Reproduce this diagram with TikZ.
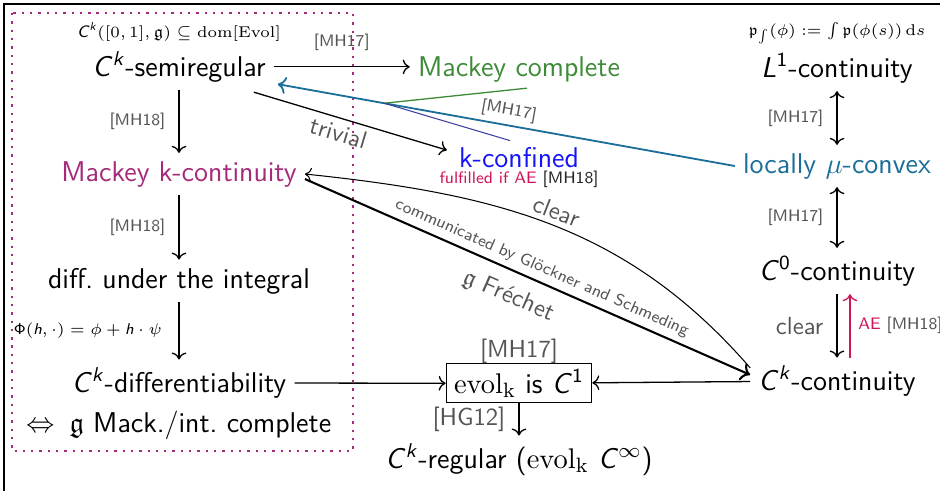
\documentclass[tikz,border=0pt]{standalone}
\usepackage{amsmath}
\usepackage{amssymb}
\usepackage{tikz}
\usetikzlibrary{arrows.meta, positioning, calc}
\definecolor{mackeypurple}{HTML}{A52A7A}
\definecolor{completegreen}{HTML}{3D8B37}
\definecolor{confinedblue}{HTML}{1414F5}
\definecolor{aecrimson}{HTML}{D0145A}
\definecolor{convexteal}{HTML}{1A6E99}
\definecolor{linkindigo}{HTML}{3C3CA0}
\definecolor{citegrey}{HTML}{555555}
\newcommand{\sfC}[1]{\textit{C}\textsuperscript{#1}}

\begin{document}
\begin{tikzpicture}[
    x=0.385pt, y=0.385pt,
    stmt/.style={font=\sffamily\fontsize{11}{13}\selectfont, anchor=base, inner sep=3pt},
    note/.style={font=\sffamily\fontsize{6.4}{7.5}\selectfont, anchor=base},
    cite/.style={font=\sffamily\fontsize{6.4}{7.5}\selectfont, text=citegrey, inner sep=2pt},
    remark/.style={font=\sffamily\fontsize{9.5}{11}\selectfont, text=citegrey, inner sep=2pt},
    imp/.style={->, line width=0.5pt},
]
    \useasboundingbox (0,0) rectangle (940,-491);
    \draw[line width=0.6pt] (4,-491) -- (4,-4) -- (940,-4);

    % Left column
    \draw[mackeypurple, line width=0.9pt, dash pattern=on 0.9pt off 2.3pt] (12,-13) rectangle (353,-451);
    \node[note] (dom) at (179,-37) {\sfC{\textit{k}}$([0,1],\mathfrak{g})\subseteq\mathrm{dom}[\mathrm{Evol}]$};
    \node[stmt] (semireg) at (179,-76) {\sfC{\textit{k}}-semiregular};
    \node[stmt, text=mackeypurple] (mkc) at (179,-181) {Mackey k-continuity};
    \node[stmt] (diffint) at (179,-288) {diff.\ under the integral};
    \node[stmt] (ckdiff) at (179,-392) {\sfC{\textit{k}}-differentiability};
    \node[stmt] (intc) at (179,-432) {$\Leftrightarrow$\enspace$\mathfrak{g}$ Mack./int.\ complete};

    % Middle
    \node[stmt, text=completegreen] (mcompl) at (519,-76) {Mackey complete};
    \node[stmt, text=confinedblue] (kconf) at (519,-167) {k-confined};
    \node[cite, anchor=base, text=black!85] (aenote) at (519,-183) {\textcolor{aecrimson}{fulfilled if AE} [MH18]};
    \node[stmt, draw, inner xsep=3pt, inner ysep=2pt] (evol) at (519,-393) {$\mathrm{evol}_{\mathrm{k}}$ is \sfC{1}};
    \node[remark, anchor=base] (evolcite) at (519,-357) {[MH17]};
    \node[stmt] (reg) at (519,-468) {\sfC{\textit{k}}-regular ($\mathrm{evol}_{\mathrm{k}}$ \sfC{$\infty$})};

    % Right column
    \node[note, font=\sffamily\fontsize{6}{7}\selectfont] (pint) at (837,-35) {$\mathfrak{p}_{\int}(\phi):=\int\mathfrak{p}(\phi(s))\,\mathrm{d}s$};
    \node[stmt] (L1) at (837,-77) {\textit{L}\textsuperscript{1}-continuity};
    \node[stmt, text=convexteal] (lmc) at (837,-173) {locally $\mu$-convex};
    \node[stmt] (C0) at (837,-280) {\sfC{0}-continuity};
    \node[stmt] (Ckc) at (837,-390) {\sfC{\textit{k}}-continuity};

    % Implications
    \draw[imp] (semireg) -- node[cite, left=3pt] {[MH18]} (mkc);
    \draw[imp] (mkc) -- node[cite, left=3pt] {[MH18]} (diffint);
    \draw[imp] (diffint) -- node[note, font=\sffamily\fontsize{6}{7}\selectfont, left=3pt, anchor=east] {$\mathsf{\Phi}(\textit{h},\cdot)=\phi+\textit{h}\cdot\psi$} (ckdiff);
    \draw[imp] (semireg.east) -- node[cite, above=4pt] {[MH17]} (mcompl.west |- semireg.east);
    \draw[imp] ($(semireg.south east)+(-20,-2)$) -- node[remark, sloped, below, pos=0.46] {trivial} ($(kconf.west)+(-4,7)$);
    \draw[->, convexteal, line width=0.7pt] (lmc.west) -- node[cite, sloped, above, pos=0.5] {[MH17]} coordinate[pos=0.767] (jn) ($(semireg.south east)+(4,6)$);
    \draw[completegreen, line width=0.5pt] (jn) -- ($(mcompl.south)+(8,2)$);
    \draw[linkindigo, line width=0.4pt] (jn) -- ($(kconf.north)+(-9,-2)$);

    \draw[->, line width=0.8pt] ($(mkc.east)+(0,-5)$) -- node[cite, sloped, above, pos=0.52] {communicated by Glöckner and Schmeding} node[remark, sloped, below=3pt, pos=0.48] {$\mathfrak{g}$ Fréchet} ($(Ckc.west)+(0,6)$);
    \draw[->, line width=0.4pt] ($(Ckc.west)+(0,13)$) to[out=131, in=-6] node[remark, sloped, above, pos=0.5] {clear} (mkc.east);

    \draw[imp] (ckdiff) -- (evol);
    \draw[imp] (Ckc) -- (evol);
    \draw[imp] (evol) -- node[remark, left=3pt] {[HG12]} (reg);

    \draw[imp, <->] (L1) -- node[cite, left=3pt] {[MH17]} (lmc);
    \draw[imp, <->] (lmc) -- node[cite, left=3pt] {[MH17]} (C0);
    \draw[imp] (C0) -- node[remark, left=3pt] {clear} (Ckc);
    \draw[imp, aecrimson] ([xshift=5pt]Ckc.north) -- node[cite, right=1pt, text=citegrey] {\textcolor{aecrimson}{AE} [MH18]} ([xshift=5pt]C0.south);
\end{tikzpicture}
\end{document}
